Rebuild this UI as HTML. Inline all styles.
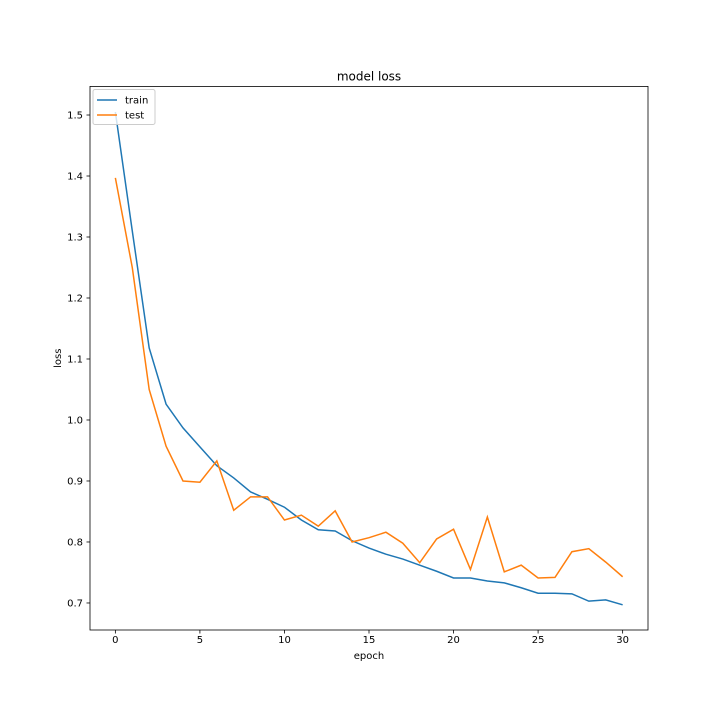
<!DOCTYPE html>
<html><head><meta charset="utf-8"><style>
body{margin:0;background:#fff;}
svg{display:block;font-family:"DejaVu Sans","Liberation Sans",sans-serif;}
</style></head><body>
<svg id="chart" width="720" height="720"></svg>
<script>
const epochs = Array.from({length:31},(_, i)=>i);
const trainLoss = [1.505,1.31,1.118,1.026,0.987,0.956,0.925,0.905,0.882,0.870,0.857,0.836,0.820,0.818,0.802,0.790,0.780,0.772,0.762,0.752,0.741,0.741,0.736,0.733,0.725,0.716,0.716,0.715,0.703,0.705,0.697];
const testLoss = [1.397,1.25,1.05,0.957,0.900,0.898,0.933,0.852,0.874,0.874,0.836,0.844,0.826,0.851,0.800,0.807,0.816,0.798,0.766,0.805,0.821,0.755,0.841,0.751,0.762,0.741,0.742,0.784,0.789,0.767,0.743];
const xTicks = [0,5,10,15,20,25,30];
const yTicks = [0.7,0.8,0.9,1.0,1.1,1.2,1.3,1.4,1.5];

const L=90,R=648,T=86.4,B=630;
const xMin=-1.5,xMax=31.5,yMin=0.6557,yMax=1.5469;
const sx=v=>L+(v-xMin)/(xMax-xMin)*(R-L);
const sy=v=>B-(v-yMin)/(yMax-yMin)*(B-T);
const svg=document.getElementById('chart');
const NS='http://www.w3.org/2000/svg';
function mk(tag,attrs,parent){const e=document.createElementNS(NS,tag);for(const k in attrs)e.setAttribute(k,attrs[k]);(parent||svg).appendChild(e);return e;}

function series(data,color,name){
  const p=mk('polyline',{points:data.map((v,i)=>sx(epochs[i])+','+sy(v)).join(' '),fill:'none',stroke:color,'stroke-width':1.5});
  
  
}
series(trainLoss,'#1f77b4','train-line');
series(testLoss,'#ff7f0e','test-line');

const frame=mk('rect',{x:L,y:T,width:R-L,height:B-T,fill:'none',stroke:'#000','stroke-width':0.8});



xTicks.forEach(t=>{
  const x=sx(t);
  mk('line',{x1:x,x2:x,y1:B,y2:B+3.5,stroke:'#000','stroke-width':0.8});
  const tx=mk('text',{x:x,y:B+13,'font-size':10,'text-anchor':'middle'});
  tx.textContent=t;
  
  
});
yTicks.forEach(t=>{
  const y=sy(t);
  mk('line',{x1:L-3.5,x2:L,y1:y,y2:y,stroke:'#000','stroke-width':0.8});
  const tx=mk('text',{x:L-7,y:y+3.5,'font-size':10,'text-anchor':'end'});
  tx.textContent=t.toFixed(1);
  
  
});

const title=mk('text',{x:(L+R)/2,y:T-6,'font-size':12,'text-anchor':'middle'});
title.textContent='model loss';


const xl=mk('text',{x:(L+R)/2,y:B+29,'font-size':10,'text-anchor':'middle'});
xl.textContent='epoch';


const yl=mk('text',{x:0,y:0,'font-size':10,'text-anchor':'middle',transform:`translate(61,${(T+B)/2}) rotate(-90)`});
yl.textContent='loss';



const lg=mk('g',{});


mk('rect',{x:93,y:89.5,width:62,height:35,rx:2,fill:'#fff','fill-opacity':0.8,stroke:'#ccc','stroke-width':1},lg);
[['train','#1f77b4',100],['test','#ff7f0e',115]].forEach(([n,c,y])=>{
  mk('line',{x1:97,x2:117,y1:y,y2:y,stroke:c,'stroke-width':1.5},lg);
  const t=mk('text',{x:125,y:y+3.5,'font-size':10},lg);
  t.textContent=n;
  
  
});
</script>
</body></html>
